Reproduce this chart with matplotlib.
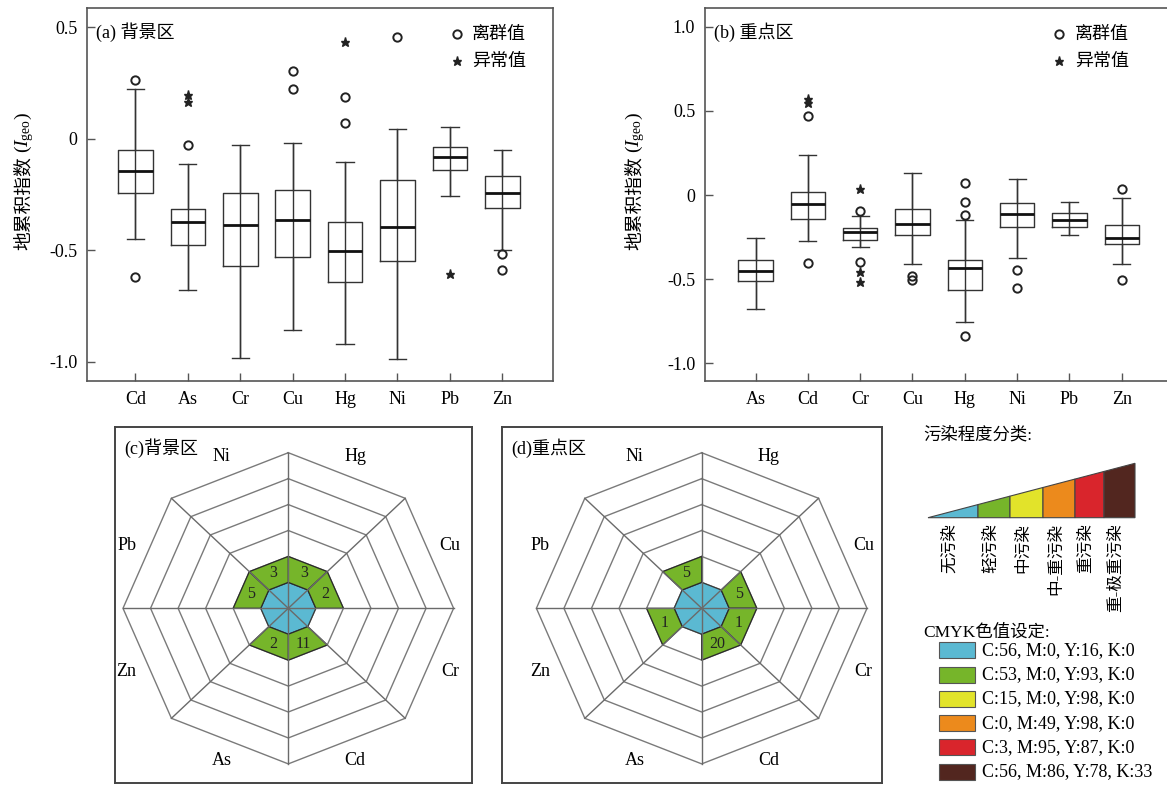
import matplotlib
matplotlib.use('Agg')
import matplotlib.pyplot as plt
from matplotlib.patches import Polygon, Rectangle
import numpy as np

plt.rcParams['font.family'] = ['Liberation Serif', 'Noto Sans CJK SC']
plt.rcParams['mathtext.fontset'] = 'custom'
plt.rcParams['mathtext.rm'] = 'Liberation Serif'
plt.rcParams['mathtext.it'] = 'Liberation Serif:italic'

# ---------------- data ----------------
elems_a = ['Cd', 'As', 'Cr', 'Cu', 'Hg', 'Ni', 'Pb', 'Zn']
a_whislo = [-0.449, -0.679, -0.985, -0.860, -0.922, -0.990, -0.258, -0.500]
a_q1 = [-0.242, -0.475, -0.572, -0.530, -0.642, -0.549, -0.139, -0.309]
a_med = [-0.145, -0.373, -0.385, -0.363, -0.504, -0.396, -0.082, -0.242]
a_q3 = [-0.049, -0.315, -0.243, -0.231, -0.373, -0.187, -0.037, -0.169]
a_whishi = [0.224, -0.115, -0.030, -0.019, -0.103, 0.042, 0.051, -0.049]
a_outliers = [[0.263, -0.622], [-0.030], [], [0.303, 0.224], [0.187, 0.072], [0.458], [], [-0.518, -0.590]]
a_extremes = [[], [0.197, 0.164], [], [], [0.433], [], [-0.609], []]

elems_b = ['As', 'Cd', 'Cr', 'Cu', 'Hg', 'Ni', 'Pb', 'Zn']
b_whislo = [-0.679, -0.276, -0.310, -0.411, -0.758, -0.377, -0.238, -0.413]
b_q1 = [-0.510, -0.145, -0.266, -0.238, -0.567, -0.188, -0.192, -0.294]
b_med = [-0.452, -0.054, -0.222, -0.173, -0.437, -0.113, -0.149, -0.254]
b_q3 = [-0.387, 0.016, -0.198, -0.085, -0.389, -0.046, -0.109, -0.181]
b_whishi = [-0.258, 0.236, -0.123, 0.129, -0.149, 0.097, -0.040, -0.016]
b_outliers = [[], [0.470, -0.407], [-0.095, -0.399], [-0.482, -0.506],
              [0.073, -0.044, -0.119, -0.839], [-0.446, -0.552], [], [0.036, -0.506]]
b_extremes = [[], [0.569, 0.546], [0.038, -0.458, -0.516], [], [], [], [], []]

a_yticks = [0.5, 0, -0.5, -1.0]
a_yticklabels = ['0.5', '0', '-0.5', '-1.0']
b_yticks = [1.0, 0.5, 0, -0.5, -1.0]
b_yticklabels = ['1.0', '0.5', '0', '-0.5', '-1.0']

radar_elems = ['Hg', 'Cu', 'Cr', 'Cd', 'As', 'Zn', 'Pb', 'Ni']
bg_light = [3, 2, 0, 11, 2, 0, 5, 3]
key_light = [0, 5, 1, 20, 0, 1, 0, 5]
n_levels = 6

class_labels = ['无污染', '轻污染', '中污染', '中-重污染', '重污染', '重-极重污染']
class_colors = ['#5bb9d2', '#76b52a', '#e2e32a', '#ec8a1c', '#d9252c', '#52261f']
cmyk_labels = ['C:56, M:0, Y:16, K:0', 'C:53, M:0, Y:93, K:0', 'C:15, M:0, Y:98, K:0',
               'C:0, M:49, Y:98, K:0', 'C:3, M:95, Y:87, K:0', 'C:56, M:86, Y:78, K:33']

ylabel_cjk = '地累积指数'
ylabel_sym = r'($I_{\rm geo}$)'

# ---------------- figure ----------------
W, H = 1167, 792
fig = plt.figure(figsize=(W / 100, H / 100), dpi=100)


def px_axes(l, t, r, b):
    return fig.add_axes([l / W, 1 - b / H, (r - l) / W, (b - t) / H])


def px_text(x, y, s, **kw):
    return fig.text(x / W, 1 - y / H, s, **kw)


SPINE = '#555555'
LINE = '#333333'


def box_panel(ax, elems, lo, q1, med, q3, hi, outl, extr, yticks, yticklabels,
              xlim, ylim, title, leg_x, txt_x):
    pos = np.arange(1, len(elems) + 1)
    stats = [dict(med=m, q1=a, q3=b, whislo=l, whishi=h, fliers=[])
             for l, a, m, b, h in zip(lo, q1, med, q3, hi)]
    ax.vlines(pos, lo, hi, color=LINE, lw=1.0, zorder=1)
    ax.bxp(stats, positions=pos, widths=0.66, capwidths=0.33, showfliers=False,
           boxprops=dict(color=LINE, lw=1.0), whiskerprops=dict(color=LINE, lw=1.0),
           capprops=dict(color=LINE, lw=1.0), medianprops=dict(color='#111111', lw=2.0),
           manage_ticks=False)
    for p, vals in zip(pos, outl):
        if vals:
            ax.plot([p] * len(vals), vals, 'o', mfc='none', mec='#222222', mew=1.4, ms=6.0, zorder=3)
    for p, vals in zip(pos, extr):
        if vals:
            ax.plot([p] * len(vals), vals, '*', color='#222222', ms=6.5, zorder=3)
    ax.set_xlim(*xlim)
    ax.set_ylim(*ylim)
    ax.set_xticks(pos)
    ax.set_xticklabels(elems)
    ax.set_yticks(yticks)
    ax.set_yticklabels(yticklabels)
    ax.tick_params(direction='in', length=6, width=1.0, color=SPINE, labelsize=13, pad=7)
    for s in ax.spines.values():
        s.set_color(SPINE)
        s.set_linewidth(1.2)
    ax.text(0.02, 0.936, title, transform=ax.transAxes, fontsize=13, ha='left', va='center')
    ax.plot([leg_x], [0.930], 'o', mfc='none', mec='#222222', mew=1.4, ms=6.0, transform=ax.transAxes)
    ax.plot([leg_x], [0.858], '*', color='#222222', ms=6.5, transform=ax.transAxes)
    ax.text(txt_x, 0.930, '离群值', transform=ax.transAxes, fontsize=13, ha='left', va='center')
    ax.text(txt_x, 0.858, '异常值', transform=ax.transAxes, fontsize=13, ha='left', va='center')


def ylabel_at(x, ybottom):
    px_text(x, ybottom, ylabel_cjk, rotation=90, fontsize=13.5, ha='center', va='bottom',
            family='Noto Sans CJK SC', fontweight='medium')
    px_text(x + 1, ybottom - 97, ylabel_sym, rotation=90, fontsize=14, ha='center', va='bottom')


ax_a = px_axes(87, 8, 553, 381)
box_panel(ax_a, elems_a, a_whislo, a_q1, a_med, a_q3, a_whishi, a_outliers, a_extremes,
          a_yticks, a_yticklabels, (0.076, 8.967), (-1.087, 0.587), '(a) 背景区', 0.793, 0.826)
ylabel_at(23, 250)

ax_b = px_axes(705, 8, 1172, 381)
box_panel(ax_b, elems_b, b_whislo, b_q1, b_med, b_q3, b_whishi, b_outliers, b_extremes,
          b_yticks, b_yticklabels, (0.034, 8.96), (-1.107, 1.113), '(b) 重点区', 0.758, 0.792)
ylabel_at(634, 250)


# ---------------- radar panels ----------------
def radar_panel(ax, light):
    ang = np.deg2rad(90 - 45 * np.arange(9))
    c, s = np.cos(ang), np.sin(ang)
    for lv in range(1, n_levels + 1):
        ax.plot(lv * c, lv * s, color='#7a7a7a', lw=1.0, zorder=1)
    ax.add_patch(Polygon(np.c_[c[:8], s[:8]], closed=True, facecolor=class_colors[0],
                         edgecolor='#3a3a3a', lw=0.9, zorder=2))
    for i, n in enumerate(light):
        if n > 0:
            pts = [(c[i], s[i]), (2 * c[i], 2 * s[i]), (2 * c[i + 1], 2 * s[i + 1]), (c[i + 1], s[i + 1])]
            ax.add_patch(Polygon(pts, closed=True, facecolor=class_colors[1],
                                 edgecolor='#2a2a2a', lw=0.9, zorder=2))
            mid = (ang[i] + ang[i + 1]) / 2
            ax.text(1.47 * np.cos(mid), 1.47 * np.sin(mid), str(n), fontsize=11.5,
                    ha='center', va='center', zorder=5, color='#222222')
    for i in range(8):
        ax.plot([0, n_levels * c[i]], [0, n_levels * s[i]], color='#6a6a6a', lw=1.0, zorder=3)
    for i, e in enumerate(radar_elems):
        mid = (ang[i] + ang[i + 1]) / 2
        ax.text(6.35 * np.cos(mid), 6.35 * np.sin(mid), e, fontsize=13, ha='center', va='center')
    ax.set_xticks([])
    ax.set_yticks([])
    for sp in ax.spines.values():
        sp.set_color('#444444')
        sp.set_linewidth(1.4)


# unit scale: 27.55 px per level horizontally, 25.93 px vertically
def radar_axes(l, t, r, b, cx, cy):
    ax = px_axes(l, t, r, b)
    ax.set_xlim((l - cx) / 27.55, (r - cx) / 27.55)
    ax.set_ylim(-(b - cy) / 25.93, (cy - t) / 25.93)
    return ax


ax_c = radar_axes(115, 427, 472, 783, 288.3, 608.3)
radar_panel(ax_c, bg_light)
ax_c.text(0.025, 0.94, '(c)背景区', transform=ax_c.transAxes, fontsize=13, ha='left', va='center')

ax_d = radar_axes(502, 427, 882, 783, 701.7, 608.3)
radar_panel(ax_d, key_light)
ax_d.text(0.025, 0.94, '(d)重点区', transform=ax_d.transAxes, fontsize=13, ha='left', va='center')

# ---------------- legend panel ----------------
ax_l = px_axes(890, 420, 1167, 792)
ax_l.set_xlim(890, 1167)
ax_l.set_ylim(792, 420)
ax_l.axis('off')
ax_l.text(923, 435, '污染程度分类:', fontsize=12.5, ha='left', va='center')
xb = [928, 978, 1010, 1043, 1075, 1104, 1135]
base, topr = 517.7, 463.3


def ytop(x):
    return base - (x - xb[0]) * (base - topr) / (xb[-1] - xb[0])


for i in range(6):
    x0, x1 = xb[i], xb[i + 1]
    ax_l.add_patch(Polygon([(x0, base), (x0, ytop(x0)), (x1, ytop(x1)), (x1, base)], closed=True,
                           facecolor=class_colors[i], edgecolor='#444444', lw=0.8))
    ax_l.text((x0 + x1) / 2 - 3, 523, class_labels[i], rotation=90, fontsize=12,
              ha='center', va='top')
ax_l.text(923, 632, 'CMYK色值设定:', fontsize=12.5, ha='left', va='center')
for i in range(6):
    yc = 650.3 + i * 24.3
    ax_l.add_patch(Rectangle((939, yc - 8), 36, 16, facecolor=class_colors[i], edgecolor='#555555', lw=0.8))
    ax_l.text(982, yc, cmyk_labels[i], fontsize=13, ha='left', va='center')

fig.savefig('out.png', dpi=100)
